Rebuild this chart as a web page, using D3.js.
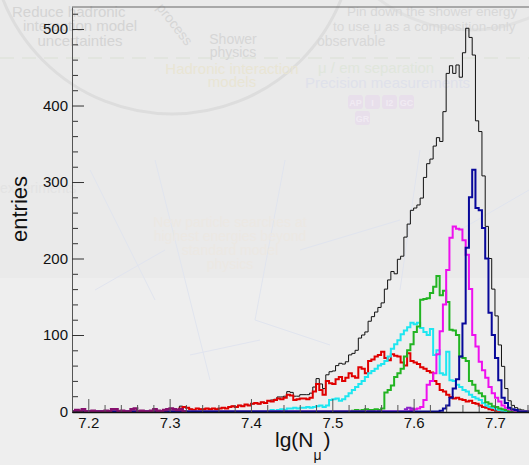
<!DOCTYPE html>
<html>
<head>
<meta charset="utf-8">
<script src="https://cdn.jsdelivr.net/npm/d3@7"></script>
<style>
  body { margin: 0; background: #ececec; overflow: hidden; }
  svg { display: block; font-family: "Liberation Sans", Arial, sans-serif; }
</style>
</head>
<body>
<div id="chart"></div>
<script>
// histogram binning (lg(N_mu)), each series = first bin edge + counts per bin
const binWidth = 0.004;
const xTicks = [7.2, 7.3, 7.4, 7.5, 7.6, 7.7];
const yTicks = [0, 100, 200, 300, 400, 500];

const totalStart = 7.18;
const totalCounts = [
  0, 2, 1, 3, 0, 0, 1, 0, 0, 0, 1, 0, 3, 3, 0, 1, 0, 0, 3, 4,
  0, 1, 0, 0, 1, 3, 1, 0, 2, 3, 4, 3, 2, 7, 6, 5, 3, 2, 4, 3,
  3, 4, 3, 4, 3, 4, 5, 4, 6, 7, 6, 8, 7, 9, 8, 10, 11, 10, 12, 11,
  14, 15, 16, 19, 19, 20, 26, 25, 20, 20, 22, 22, 22, 24, 32, 43, 36, 30, 48, 52,
  53, 60, 63, 62, 65, 74, 76, 80, 96, 100, 104, 118, 124, 130, 136, 142, 160, 172, 183, 180,
  199, 203, 228, 245, 263, 266, 270, 279, 306, 324, 330, 347, 358, 353, 392, 442, 452, 442, 453, 437,
  469, 501, 489, 466, 380, 366, 308, 242, 200, 160, 125, 87, 59, 30, 14, 8, 5, 3, 2, 1
];

const redStart = 7.312;
const redCounts = [
  4, 6, 5, 3, 2, 4, 3, 3, 4, 3,
  4, 3, 4, 5, 4, 6, 7, 6, 8, 7,
  9, 8, 10, 11, 10, 12, 11, 14, 13, 15,
  17, 16, 18, 22, 21, 15, 16, 17, 17, 16,
  18, 26, 36, 28, 22, 40, 37, 36, 42, 45,
  40, 44, 50, 46, 44, 58, 56, 50, 66, 68,
  72, 74, 78, 70, 67, 75, 73, 72, 64, 60,
  76, 66, 64, 62, 58, 56, 53, 51, 40, 36,
  28, 26, 22, 19, 17, 18, 16, 15, 13, 14,
  11, 10, 8, 6, 5, 3, 2, 1, 1
];

const cyanStart = 7.424;
const cyanCounts = [
  2, 1, 2, 3, 2, 4, 4, 5, 4, 5,
  5, 6, 5, 6, 7, 8, 6, 8, 15, 16,
  17, 14, 16, 20, 24, 28, 32, 36, 40, 45,
  50, 53, 56, 60, 62, 66, 72, 82, 88, 93,
  101, 106, 110, 116, 114, 116, 109, 104, 100, 108,
  74, 80, 50, 48, 78, 41, 40, 35, 32, 28,
  26, 22, 19, 17, 15, 11, 8, 6, 5, 3,
  2, 1
];

const greenStart = 7.524;
const greenCounts = [
  1, 2, 1, 2, 3, 2, 2, 3, 2, 4,
  25, 28, 34, 45, 50, 56, 72, 80, 88, 104,
  111, 146, 147, 148, 155, 163, 177, 152, 158, 143,
  107, 106, 100, 72, 70, 66, 40, 35, 27, 24,
  20, 12, 10, 7, 6, 4, 3, 2
];

const magentaStart = 7.596;
const magentaCounts = [
  2, 3, 4, 6, 15, 35, 40, 50, 75, 105,
  140, 185, 227, 242, 239, 238, 224, 205, 160, 100,
  85, 65, 54, 44, 32, 24, 18, 13, 8, 5,
  3, 2, 1
];

const blueStart = 7.632;
const blueCounts = [
  1, 4, 8, 18, 30, 42, 72, 115, 214, 280,
  316, 266, 263, 240, 200, 129, 100, 70, 41, 18,
  11, 5, 3, 2
];

const purpleStart = 7.18;
const purpleCounts = [
  0, 2, 1, 3, 0, 0, 1, 0, 0, 0, 1, 0, 3, 3, 0, 1, 0, 0, 3, 4,
  0, 1, 0, 0, 1, 3, 1, 0, 2, 3, 4, 3, 2, 3, 0
];
const purpleHighStart = 7.588;
const purpleHighCounts = [3, 5, 4];

const width = 529, height = 465;
const svg = d3.select('#chart').append('svg')
  .attr('width', width)
  .attr('height', height);

// faint watermark background
const bg = svg.append('g');
bg.append('rect').attr('width', width).attr('height', height).attr('fill', '#eeeeee');
bg.append('rect').attr('width', width).attr('height', 278).attr('fill', '#eaeaea');
bg.append('circle').attr('cx', 172).attr('cy', -68).attr('r', 182)
  .attr('fill', 'none').attr('stroke', '#dddddd').attr('stroke-width', 3);
bg.append('circle').attr('cx', 470).attr('cy', -120).attr('r', 150)
  .attr('fill', 'none').attr('stroke', '#e1e1e1').attr('stroke-width', 3);
bg.append('line').attr('x1', 0).attr('x2', width).attr('y1', 58).attr('y2', 58)
  .attr('stroke', '#dfe3db').attr('stroke-width', 1.5).attr('stroke-dasharray', '14,8');
const netLines = [[90, 170, 155, 300], [155, 160, 210, 380], [95, 290, 165, 250], [190, 355, 260, 340],
  [255, 320, 330, 345], [285, 160, 255, 320], [300, 250, 400, 220], [420, 150, 400, 290], [460, 230, 529, 190]];
netLines.forEach(l => bg.append('line')
  .attr('x1', l[0]).attr('y1', l[1]).attr('x2', l[2]).attr('y2', l[3])
  .attr('stroke', '#e0e4ee').attr('stroke-width', 1));
const marks = [
  { t: 'Reduce hadronic', x: 12, y: 17, c: '#d4d4d4', a: 'start', s: 15 },
  { t: 'interaction model', x: 80, y: 31, c: '#d4d4d4', a: 'middle', s: 15 },
  { t: 'uncertainties', x: 80, y: 46, c: '#d4d4d4', a: 'middle', s: 15 },
  { t: 'Shower', x: 233, y: 44, c: '#d6d6d6', a: 'middle', s: 14 },
  { t: 'physics', x: 233, y: 57, c: '#d6d6d6', a: 'middle', s: 14 },
  { t: 'Hadronic interaction', x: 232, y: 74, c: '#e9e5d4', a: 'middle', s: 15 },
  { t: 'models', x: 232, y: 87, c: '#e9e5d4', a: 'middle', s: 15 },
  { t: 'Pin down the shower energy', x: 347, y: 16, c: '#d8d8d8', a: 'start', s: 13.5 },
  { t: 'to use μ as a composition-only', x: 333, y: 31, c: '#d8d8d8', a: 'start', s: 13.5 },
  { t: 'observable', x: 317, y: 46, c: '#d8d8d8', a: 'start', s: 14 },
  { t: 'μ / em separation', x: 318, y: 73, c: '#e0e6dc', a: 'start', s: 15 },
  { t: 'Precision measurements', x: 305, y: 88, c: '#dfe1ea', a: 'start', s: 15 },
  { t: 'experiments', x: 0, y: 193, c: '#e3e3e3', a: 'start', s: 14 },
  { t: 'New particle searches at', x: 230, y: 227, c: '#ece8e3', a: 'middle', s: 14 },
  { t: 'highest energies beyond', x: 230, y: 241, c: '#ece8e3', a: 'middle', s: 14 },
  { t: 'standard model', x: 230, y: 255, c: '#ece8e3', a: 'middle', s: 14 },
  { t: 'physics', x: 230, y: 269, c: '#ece8e3', a: 'middle', s: 14 }
];
marks.forEach(m => bg.append('text').text(m.t)
  .attr('x', m.x).attr('y', m.y).attr('fill', m.c)
  .attr('text-anchor', m.a).attr('font-size', m.s));
bg.append('text').text('process').attr('transform', 'translate(156,8) rotate(52)')
  .attr('fill', '#d6d6d6').attr('font-size', 14);
['AP', 'I', 'I2', 'GC'].forEach((t, i) => {
  bg.append('rect').attr('x', 348 + i * 17).attr('y', 95).attr('width', 15).attr('height', 14)
    .attr('rx', 3).attr('fill', '#e8dfeb');
  bg.append('text').text(t).attr('x', 355.5 + i * 17).attr('y', 106)
    .attr('text-anchor', 'middle').attr('font-size', 9).attr('font-weight', 'bold').attr('fill', '#f1ebf3');
});
bg.append('rect').attr('x', 355).attr('y', 111).attr('width', 15).attr('height', 14)
  .attr('rx', 3).attr('fill', '#e8dfeb');
bg.append('text').text('GR').attr('x', 362.5).attr('y', 122).attr('text-anchor', 'middle')
  .attr('font-size', 9).attr('font-weight', 'bold').attr('fill', '#f1ebf3');

// scales
const x = d3.scaleLinear().domain([7.18, 7.8]).range([72.03, 576.3]);
const y = d3.scaleLinear().domain([0, 528.8]).range([411.5, 7]);

// frame top line
svg.append('line').attr('x1', 72).attr('x2', width).attr('y1', 7).attr('y2', 7)
  .attr('stroke', '#666').attr('stroke-width', 1);

// histograms
const line = d3.line().x(d => x(d[0])).y(d => y(d[1])).curve(d3.curveStepAfter);
function histPoints(start, counts, pad) {
  const pts = pad ? [[7.18, 0]] : [];
  counts.forEach((c, i) => pts.push([start + i * binWidth, c]));
  pts.push([start + counts.length * binWidth, 0]);
  if (pad) pts.push([7.8, 0]);
  return pts;
}
const series = [
  { start: totalStart, counts: totalCounts, color: '#111', w: 1, pad: true },
  { start: redStart, counts: redCounts, color: '#e00000', w: 2, pad: true },
  { start: cyanStart, counts: cyanCounts, color: '#1ee6f0', w: 2, pad: true },
  { start: greenStart, counts: greenCounts, color: '#22b422', w: 2, pad: true },
  { start: magentaStart, counts: magentaCounts, color: '#ee10ee', w: 2, pad: true },
  { start: blueStart, counts: blueCounts, color: '#08089a', w: 2, pad: true },
  { start: purpleStart, counts: purpleCounts, color: '#86106e', w: 2.5, pad: false },
  { start: purpleHighStart, counts: purpleHighCounts, color: '#8a22c8', w: 2, pad: false }
];
svg.append('g').selectAll('path')
  .data(series)
  .enter()
  .append('path')
  .attr('d', d => line(histPoints(d.start, d.counts, d.pad)))
  .attr('fill', 'none')
  .attr('stroke', d => d.color)
  .attr('stroke-width', d => d.w);

// y axis (ticks point inward like ROOT)
const yMinor = d3.range(0, 521, 20).filter(v => v % 100 !== 0);
svg.append('g').attr('transform', 'translate(72,0)')
  .call(d3.axisLeft(y).tickValues(yMinor).tickSizeInner(-6).tickSizeOuter(0).tickFormat(''))
  .call(g => g.select('.domain').remove())
  .selectAll('line').attr('stroke', '#333');
const yAxis = svg.append('g').attr('transform', 'translate(72,0)')
  .call(d3.axisLeft(y).tickValues(yTicks).tickSizeInner(-12).tickSizeOuter(0).tickPadding(4));
yAxis.select('.domain').attr('stroke', '#555');
yAxis.selectAll('line').attr('stroke', '#333');
yAxis.selectAll('text').attr('font-size', 15).attr('fill', '#111').attr('font-family', '"Liberation Sans", Arial, sans-serif');

// x axis
const xMinor = d3.range(0, 31).map(i => 7.18 + i * 0.02)
  .filter(v => Math.abs(v * 10 - Math.round(v * 10)) > 1e-6);
svg.append('g').attr('transform', 'translate(0,412)')
  .call(d3.axisBottom(x).tickValues(xMinor).tickSizeInner(-7).tickSizeOuter(0).tickFormat(''))
  .call(g => g.select('.domain').remove())
  .selectAll('line').attr('stroke', '#555');
const xAxis = svg.append('g').attr('transform', 'translate(0,412)')
  .call(d3.axisBottom(x).tickValues(xTicks).tickSizeInner(-13).tickSizeOuter(0).tickPadding(5)
    .tickFormat(d3.format('.1f')));
xAxis.select('.domain').attr('stroke', '#111').attr('stroke-width', 1.5);
xAxis.selectAll('line').attr('stroke', '#555');
xAxis.selectAll('text').attr('font-size', 15).attr('fill', '#111').attr('font-family', '"Liberation Sans", Arial, sans-serif');

// axis titles
svg.append('text').text('entries')
  .attr('transform', 'translate(27,209) rotate(-90)')
  .attr('text-anchor', 'middle')
  .attr('font-size', 22)
  .attr('fill', '#111');
const xt = svg.append('text').attr('x', 275).attr('y', 447).attr('font-size', 21).attr('fill', '#111');
xt.append('tspan').text('lg(N');
xt.append('tspan').text('μ').attr('font-size', 14).attr('dy', 13);
xt.append('tspan').text(')').attr('dy', -13).attr('dx', 2);
</script>
</body>
</html>
